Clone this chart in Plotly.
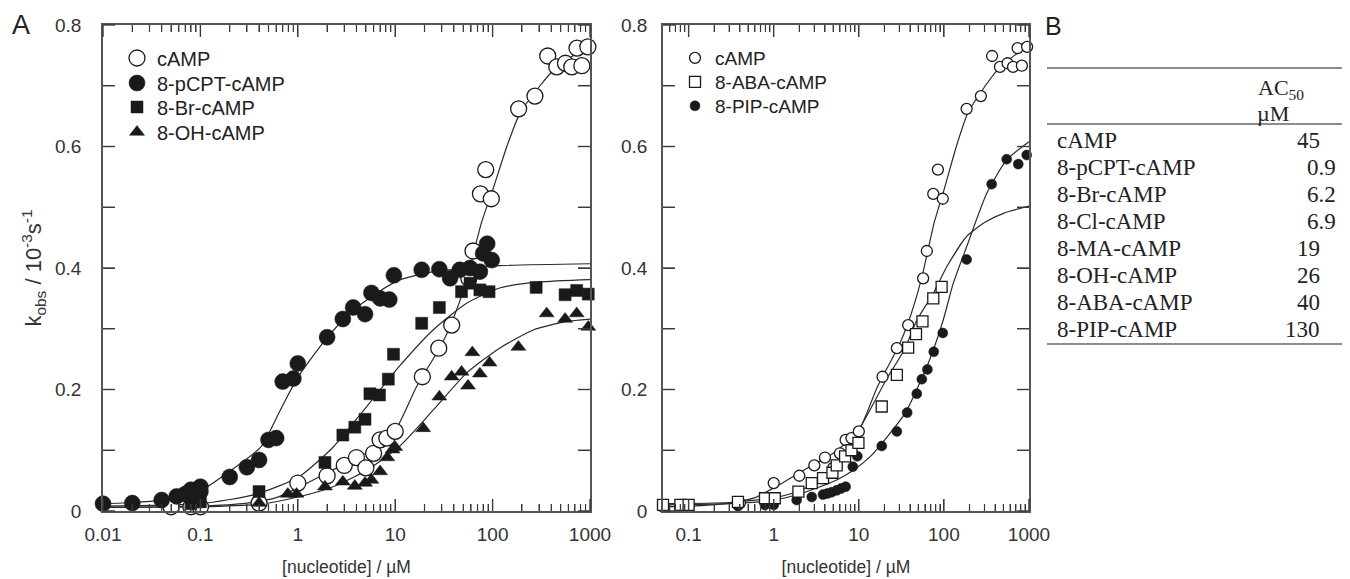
import math

import plotly.graph_objects as go

# the page body keeps its default 8px margin, so the figure is drawn 8px in from the window corner
PAGE_W, PAGE_H, OFF = 1350, 579, 8
W, H = PAGE_W - OFF, PAGE_H - OFF

# ---- panel A, left: data (x in uM, y = kobs / 1e-3 s-1)
camp_x = [0.05, 0.08, 0.1, 0.4, 1.0, 2.0, 3.0, 4.0, 5.0, 6.0, 7.0, 8.2, 10, 19, 28, 38,
          57, 63, 75, 85, 97, 185, 272, 368, 456, 560, 650, 735, 825, 950]
camp_y = [0.007, 0.007, 0.007, 0.013, 0.046, 0.058, 0.075, 0.088, 0.071, 0.095, 0.117, 0.120, 0.131, 0.221, 0.268, 0.306,
          0.383, 0.428, 0.522, 0.562, 0.514, 0.662, 0.683, 0.749, 0.731, 0.737, 0.731, 0.762, 0.733, 0.764]
camp_fit_x = [0.01, 0.1, 0.3, 0.6, 1.0, 2.3, 5.0, 10, 16.6, 29, 38, 54, 77, 101, 140, 191, 307, 420, 675, 1000]
camp_fit_y = [0.006, 0.008, 0.013, 0.022, 0.038, 0.068, 0.095, 0.133, 0.205, 0.270, 0.310, 0.380, 0.475, 0.530,
              0.600, 0.655, 0.700, 0.725, 0.750, 0.765]

pcpt_x = [0.01, 0.02, 0.04, 0.057, 0.07, 0.08, 0.09, 0.1, 0.1, 0.2, 0.3, 0.4, 0.5, 0.6, 0.7, 0.9, 1.0,
          2.0, 2.9, 3.7, 4.9, 5.7, 7.0, 8.7, 9.7, 18.7, 28.4, 36.6, 46, 58.6, 74, 80, 88, 98]
pcpt_y = [0.012, 0.013, 0.018, 0.024, 0.028, 0.035, 0.030, 0.040, 0.032, 0.056, 0.072, 0.084, 0.117, 0.120, 0.213,
          0.218, 0.243, 0.286, 0.316, 0.335, 0.324, 0.359, 0.350, 0.348, 0.388, 0.397, 0.398, 0.383, 0.397, 0.400,
          0.394, 0.424, 0.440, 0.413]
pcpt_fit_x = [0.01, 0.02, 0.04, 0.09, 0.19, 0.42, 0.68, 1.0, 1.9, 3.4, 6.1, 11, 24.5, 54, 118, 1000]
pcpt_fit_y = [0.012, 0.014, 0.018, 0.029, 0.063, 0.106, 0.170, 0.220, 0.281, 0.325, 0.356, 0.380, 0.394, 0.400,
              0.404, 0.407]

br_x = [0.08, 0.1, 0.4, 1.9, 2.9, 3.85, 4.9, 5.5, 6.9, 8.5, 9.6, 18.7, 28.4, 48, 58.6, 74, 92, 280, 555, 730, 960]
br_y = [0.012, 0.015, 0.032, 0.080, 0.125, 0.138, 0.151, 0.193, 0.191, 0.217, 0.258, 0.309, 0.335, 0.361, 0.375,
        0.364, 0.361, 0.368, 0.356, 0.363, 0.357]
br_fit_x = [0.01, 0.1, 0.36, 1.0, 2.3, 5.1, 11, 24.5, 54, 118, 300, 1000]
br_fit_y = [0.008, 0.012, 0.027, 0.055, 0.105, 0.172, 0.238, 0.298, 0.342, 0.367, 0.377, 0.381]

oh_x = [0.4, 0.79, 0.97, 1.9, 2.9, 3.85, 4.9, 5.7, 7.0, 8.3, 9.4, 10, 19.4, 28.4, 38, 48, 56, 62, 74, 93,
        184, 359, 555, 730, 960]
oh_y = [0.013, 0.028, 0.028, 0.040, 0.048, 0.041, 0.046, 0.051, 0.065, 0.088, 0.101, 0.105, 0.136, 0.188, 0.221,
        0.229, 0.206, 0.261, 0.226, 0.244, 0.270, 0.325, 0.316, 0.325, 0.303]
oh_fit_x = [0.01, 0.1, 0.4, 1.0, 2.3, 5.1, 11, 24.5, 54, 118, 262, 575, 1000]
oh_fit_y = [0.006, 0.007, 0.011, 0.023, 0.040, 0.067, 0.106, 0.166, 0.227, 0.268, 0.298, 0.312, 0.316]

# ---- panel A, right
aba_x = [0.05, 0.08, 0.1, 0.38, 0.79, 1.03, 1.95, 2.8, 3.8, 4.9, 5.5, 6.9, 8.2, 9.9, 18.6, 28, 38, 47, 56, 75, 94]
aba_y = [0.010, 0.010, 0.010, 0.015, 0.021, 0.021, 0.032, 0.046, 0.054, 0.063, 0.075, 0.090, 0.100, 0.112, 0.172,
         0.224, 0.269, 0.291, 0.312, 0.350, 0.369]
aba_fit_x = [0.05, 0.3, 1.0, 2.0, 3.5, 5.5, 8.6, 13.5, 21, 35, 48, 75, 108, 185, 300, 500, 1000]
aba_fit_y = [0.012, 0.014, 0.022, 0.033, 0.051, 0.076, 0.117, 0.166, 0.216, 0.268, 0.314, 0.358, 0.402, 0.452,
             0.475, 0.490, 0.502]

pip_x = [0.38, 0.79, 1.0, 1.86, 2.8, 3.8, 4.3, 4.8, 5.5, 6.2, 7.0, 8.5, 9.6, 18.6, 28, 37, 48, 55, 64, 76, 97,
         185, 364, 547, 748, 940]
pip_y = [0.008, 0.010, 0.010, 0.018, 0.023, 0.027, 0.029, 0.031, 0.034, 0.037, 0.040, 0.073, 0.090, 0.107, 0.131,
         0.162, 0.193, 0.217, 0.233, 0.262, 0.293, 0.414, 0.538, 0.579, 0.571, 0.586]
pip_fit_x = [0.05, 0.3, 1.0, 2.0, 3.5, 5.5, 8.6, 13.5, 21, 35, 48, 68, 98, 129, 185, 319, 547, 1000]
pip_fit_y = [0.010, 0.012, 0.018, 0.028, 0.040, 0.051, 0.067, 0.089, 0.120, 0.161, 0.200, 0.249, 0.314, 0.375,
             0.435, 0.523, 0.578, 0.608]

# ---- panel B table
table_names = ["cAMP", "8-pCPT-cAMP", "8-Br-cAMP", "8-Cl-cAMP", "8-MA-cAMP", "8-OH-cAMP", "8-ABA-cAMP", "8-PIP-cAMP"]
table_ac50 = ["45", "0.9", "6.2", "6.9", "19", "26", "40", "130"]

x_ticks_left = [0.01, 0.1, 1, 10, 100, 1000]
x_ticks_right = [0.1, 1, 10, 100, 1000]
x_ticktext_left = ["0.01", "0.1", "1", "10", "100", "1000"]
x_ticktext_right = ["0.1", "1", "10", "100", "1000"]
minor_left = [m * 10.0 ** e for e in range(-2, 3) for m in range(2, 10)]
minor_right = [v for v in minor_left if v > 0.055]
y_tick_marks = [0.0, 0.1, 0.2, 0.3, 0.4, 0.5, 0.6, 0.7, 0.8]

INK = "#1a1a1a"
AXC = "#3a3a3a"
SANS = "Liberation Sans, Arial, sans-serif"
SERIF = "Liberation Serif, Times New Roman, serif"


def px(x):
    # page pixel -> paper fraction
    return (x - OFF) / W


def py(y):
    return 1 - (y - OFF) / H


fig = go.Figure()


def fit_line(x, y, xa, ya):
    fig.add_trace(go.Scatter(x=x, y=y, mode="lines", xaxis=xa, yaxis=ya, showlegend=False,
                             line=dict(color="#2a2a2a", width=1.2, shape="spline", smoothing=0.6),
                             hoverinfo="skip"))


def pts(x, y, name, xa, ya, symbol, size, filled, legend):
    fig.add_trace(go.Scatter(
        x=x, y=y, mode="markers", name=name, xaxis=xa, yaxis=ya, legend=legend,
        cliponaxis=False,
        marker=dict(symbol=symbol, size=size, color=INK if filled else "white",
                    line=dict(color=INK, width=1.3 if not filled else 0.5)),
    ))


# left panel
for fx, fy in [(camp_fit_x, camp_fit_y), (pcpt_fit_x, pcpt_fit_y), (br_fit_x, br_fit_y), (oh_fit_x, oh_fit_y)]:
    fit_line(fx, fy, "x", "y")
pts(camp_x, camp_y, "cAMP", "x", "y", "circle", 16, False, "legend")
pts(oh_x, oh_y, "8-OH-cAMP", "x", "y", "triangle-up", 13, True, "legend4")
pts(br_x, br_y, "8-Br-cAMP", "x", "y", "square", 12, True, "legend3")
pts(pcpt_x, pcpt_y, "8-pCPT-cAMP", "x", "y", "circle", 16, True, "legend2")

# right panel
for fx, fy in [(camp_fit_x, camp_fit_y), (aba_fit_x, aba_fit_y), (pip_fit_x, pip_fit_y)]:
    fit_line(fx, fy, "x2", "y2")
pts(camp_x, camp_y, "cAMP", "x2", "y2", "circle", 11, False, "legend5")
pts(pip_x, pip_y, "8-PIP-cAMP", "x2", "y2", "circle", 10, True, "legend7")
pts(aba_x, aba_y, "8-ABA-cAMP", "x2", "y2", "square", 11, False, "legend6")

tick_font = dict(family=SANS, size=19, color="#333")
common_x = dict(type="log", showgrid=False, zeroline=False, showline=True, linecolor="#555", linewidth=1.5,
                mirror="ticks", ticks="inside", ticklen=12, tickwidth=1.4, tickcolor=AXC, automargin=False,
                tickfont=tick_font, ticklabelstandoff=5, tickmode="array",
                title=dict(text="[nucleotide] / µM", font=dict(family=SANS, size=17.5, color="#333"), standoff=17))
common_y = dict(range=[0, 0.8], dtick=0.2, showgrid=False, zeroline=False, showline=True, linecolor="#555",
                linewidth=1.5, mirror="ticks", ticks="inside", ticklen=12, tickwidth=1.4, tickcolor=AXC,
                tickfont=tick_font, automargin=False,
                minor=dict(ticks="inside", ticklen=12, tickwidth=1.4, tickcolor=AXC, dtick=0.1))


def minor_x(vals):
    return dict(ticks="inside", ticklen=7, tickwidth=1.2, tickcolor=AXC, tickmode="array", tickvals=vals)


def item_legend(xp, yp, size):
    return dict(x=px(xp), y=py(yp), xanchor="left", yanchor="middle", bgcolor="rgba(0,0,0,0)",
                font=dict(family=SANS, size=size, color="#222"), itemsizing="trace")


LEFT_DOM = [px(103), px(590)]
RIGHT_DOM = [px(663), px(1029)]
Y_DOM = [py(511), py(25)]
LEFT_RANGE = [-2, 3]
RIGHT_RANGE = [-1.30103, 3]

fig.update_layout(
    width=W, height=H, margin=dict(l=0, r=0, t=0, b=0),
    paper_bgcolor="white", plot_bgcolor="white",
    xaxis=dict(common_x, domain=LEFT_DOM, range=LEFT_RANGE, anchor="y",
               tickvals=x_ticks_left, ticktext=x_ticktext_left, minor=minor_x(minor_left)),
    yaxis=dict(common_y, domain=Y_DOM, anchor="x", ticklabelstandoff=16,
               title=dict(text="k<sub>obs</sub> / 10<sup>-3</sup>s<sup>-1</sup>",
                          font=dict(family=SANS, size=22, color="#333"), standoff=7)),
    xaxis2=dict(common_x, domain=RIGHT_DOM, range=RIGHT_RANGE, anchor="y2",
                tickvals=x_ticks_right, ticktext=x_ticktext_right, minor=minor_x(minor_right)),
    yaxis2=dict(common_y, domain=Y_DOM, anchor="x2", ticklabelstandoff=10),
    legend=item_legend(117, 58, 20),
    legend2=item_legend(117, 83, 20),
    legend3=item_legend(117, 107, 20),
    legend4=item_legend(117, 132, 20),
    legend5=item_legend(675, 58, 19),
    legend6=item_legend(675, 82, 19),
    legend7=item_legend(675, 106, 19),
    showlegend=True,
)

# inside tick marks on all four sides, in paper space (mapped from the tick values through the axis range)
shapes = []


def seg(x0, x1, y0, y1, w):
    shapes.append(dict(type="line", xref="paper", yref="paper", x0=x0, x1=x1, y0=y0, y1=y1,
                       line=dict(color=AXC, width=w), layer="above"))


def x_to_paper(v, dom, rng):
    return dom[0] + (math.log10(v) - rng[0]) / (rng[1] - rng[0]) * (dom[1] - dom[0])


def y_to_paper(v):
    return Y_DOM[0] + v / 0.8 * (Y_DOM[1] - Y_DOM[0])


for dom, rng, majors, minors in [(LEFT_DOM, LEFT_RANGE, x_ticks_left, minor_left),
                                 (RIGHT_DOM, RIGHT_RANGE, x_ticks_right, minor_right)]:
    for vals, length, w in [(majors, 12, 1.4), (minors, 7, 1.2)]:
        f = length / H
        for v in vals:
            xp = x_to_paper(v, dom, rng)
            seg(xp, xp, Y_DOM[0], Y_DOM[0] + f, w)
            seg(xp, xp, Y_DOM[1], Y_DOM[1] - f, w)
    f = 12 / W
    for v in y_tick_marks:
        yp = y_to_paper(v)
        seg(dom[0], dom[0] + f, yp, yp, 1.4)
        seg(dom[1], dom[1] - f, yp, yp, 1.4)

# table B rules
for yy in (68, 124, 344):
    shapes.append(dict(type="line", xref="paper", yref="paper", x0=px(1047), x1=1, y0=py(yy), y1=py(yy),
                       line=dict(color="#666", width=1.4)))
fig.update_layout(shapes=shapes)

# panel letters
fig.add_annotation(x=px(10), y=py(25), xref="paper", yref="paper", text="A", showarrow=False,
                   xanchor="left", yanchor="middle", font=dict(family=SANS, size=27, color="#222"))
fig.add_annotation(x=px(1043), y=py(26), xref="paper", yref="paper", text="B", showarrow=False,
                   xanchor="left", yanchor="middle", font=dict(family=SANS, size=25, color="#222"))

# table B text
fig.add_annotation(x=px(1256), y=py(89), xref="paper", yref="paper", text="AC<sub>50</sub>", showarrow=False,
                   xanchor="left", yanchor="middle", font=dict(family=SERIF, size=22, color="#222"))
fig.add_annotation(x=px(1255), y=py(113), xref="paper", yref="paper", text="µM", showarrow=False,
                   xanchor="left", yanchor="middle", font=dict(family=SERIF, size=22, color="#222"))
for i, (name, val) in enumerate(zip(table_names, table_ac50)):
    yy = 140 + i * 27.1
    fig.add_annotation(x=px(1055), y=py(yy), xref="paper", yref="paper", text=name, showarrow=False,
                       xanchor="left", yanchor="middle", font=dict(family=SERIF, size=23, color="#222"))
    right = 1338 if "." in val else 1322
    fig.add_annotation(x=px(right), y=py(yy), xref="paper", yref="paper", text=val, showarrow=False,
                       xanchor="right", yanchor="middle", font=dict(family=SERIF, size=23, color="#222"))

fig.write_html("out.html")
